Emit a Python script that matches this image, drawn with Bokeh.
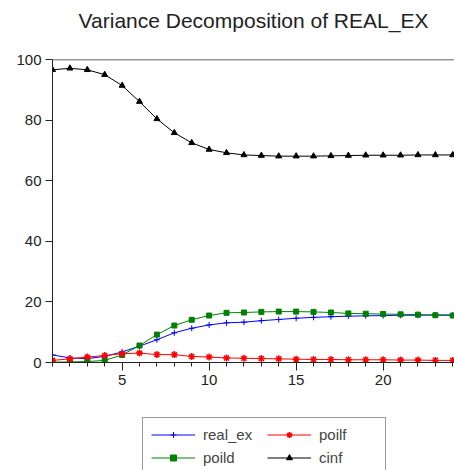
from bokeh.plotting import figure
from bokeh.layouts import column
from bokeh.models import Range1d, FixedTicker, Span, Legend, LegendItem
from bokeh.embed import file_html
from bokeh.resources import INLINE

periods = list(range(1, 25))
real_ex = [2.5, 1.5, 1.3, 2.0, 3.5, 5.4, 7.5, 9.8, 11.3, 12.4, 13.1, 13.3,
           13.8, 14.2, 14.6, 14.9, 15.1, 15.3, 15.4, 15.5, 15.6, 15.6, 15.7, 15.7]
poilf = [0.7, 1.2, 1.8, 2.3, 2.9, 3.1, 2.6, 2.6, 2.0, 1.8, 1.5, 1.4,
         1.3, 1.2, 1.1, 1.0, 1.0, 0.9, 0.9, 0.9, 0.8, 0.8, 0.7, 0.7]
poild = [0.1, 0.2, 0.3, 0.7, 2.5, 5.6, 9.2, 12.2, 14.1, 15.5, 16.4, 16.5,
         16.7, 16.8, 16.8, 16.7, 16.5, 16.2, 16.1, 16.0, 15.9, 15.8, 15.6, 15.5]
cinf = [96.6, 97.1, 96.6, 95.0, 91.4, 86.1, 80.4, 75.8, 72.5, 70.3, 69.2, 68.5,
        68.3, 68.1, 68.1, 68.1, 68.2, 68.3, 68.4, 68.4, 68.4, 68.5, 68.5, 68.5]
x_major = [5, 10, 15, 20]
y_major = [0, 20, 40, 60, 80, 100]
title_text = "Variance Decomposition of REAL_EX"

FONT = "Liberation Sans"


def blank(fig):
    fig.outline_line_color = None
    fig.xgrid.visible = False
    fig.ygrid.visible = False
    fig.background_fill_color = "white"
    fig.border_fill_color = "white"


# title strip
t = figure(width=454, height=50, output_backend="svg", toolbar_location=None,
           x_range=Range1d(0, 1), y_range=Range1d(0, 1),
           x_axis_location=None, y_axis_location=None,
           min_border_left=0, min_border_right=0, min_border_top=0, min_border_bottom=0,
           title=title_text)
blank(t)
t.title.text_font = FONT
t.title.text_font_size = "21px"
t.title.text_font_style = "normal"
t.title.text_color = "#222222"
t.title.align = "center"
t.title.offset = 5
t.title.standoff = 12

# main plot
p = figure(frame_width=402, frame_height=303, output_backend="svg", toolbar_location=None,
           x_range=Range1d(1, 24.1), y_range=Range1d(0, 100),
           min_border_left=52, min_border_right=0, min_border_top=9,
           min_border_bottom=40)
blank(p)

for ax in (p.xaxis[0], p.yaxis[0]):
    ax.axis_line_color = "#222222"
    ax.major_tick_line_color = "#222222"
    ax.minor_tick_line_color = "#222222"
    ax.major_label_text_font = FONT
    ax.major_label_text_font_size = "15px"
    ax.major_label_text_color = "#222222"
    ax.major_tick_in = 0
    ax.minor_tick_in = 0

p.xaxis[0].ticker = FixedTicker(ticks=x_major, minor_ticks=periods)
p.xaxis[0].major_tick_out = 8
p.xaxis[0].minor_tick_out = 4
p.xaxis[0].major_label_standoff = 4
p.yaxis[0].ticker = FixedTicker(ticks=y_major, minor_ticks=[])
p.yaxis[0].major_tick_out = 7
p.yaxis[0].major_label_standoff = 4

p.add_layout(Span(location=100, dimension="width", line_color="#333333", line_width=1.5))

# legend strip (same series drawn outside its visible range)
q = figure(width=454, height=68, output_backend="svg", toolbar_location=None,
           x_range=Range1d(100, 101), y_range=Range1d(200, 201),
           x_axis_location=None, y_axis_location=None,
           min_border_left=0, min_border_right=0, min_border_top=0, min_border_bottom=0)
blank(q)

series = [
    ("real_ex", real_ex, "#0000FF", "cross", 6),
    ("poild", poild, "#008000", "square", 5),
    ("poilf", poilf, "#FF0000", "asterisk", 7),
    ("cinf", cinf, "black", "triangle", 6),
]
items = []
for name, ys, color, marker, size in series:
    lw = 1.5 if marker == "asterisk" else 1
    p.line(periods, ys, line_color=color, line_width=1)
    p.scatter(periods, ys, marker=marker, size=size, line_color=color,
              fill_color=color, line_width=lw)
    ln = q.line(periods, ys, line_color=color, line_width=1)
    sc = q.scatter(periods, ys, marker=marker, size=size, line_color=color,
                   fill_color=color, line_width=lw)
    items.append(LegendItem(label=name, renderers=[ln, sc]))

legend = Legend(items=items, ncols=2, location=(90, -5),
                label_text_font=FONT, label_text_font_size="15px",
                glyph_width=44, glyph_height=15, label_standoff=8, label_width=58,
                spacing=6, padding=8, margin=0,
                border_line_color="#333333", border_line_width=1,
                background_fill_color="white", background_fill_alpha=1)
q.add_layout(legend, "center")

layout = column(t, p, q, spacing=0)
open("out.html", "w").write(file_html(layout, INLINE))
